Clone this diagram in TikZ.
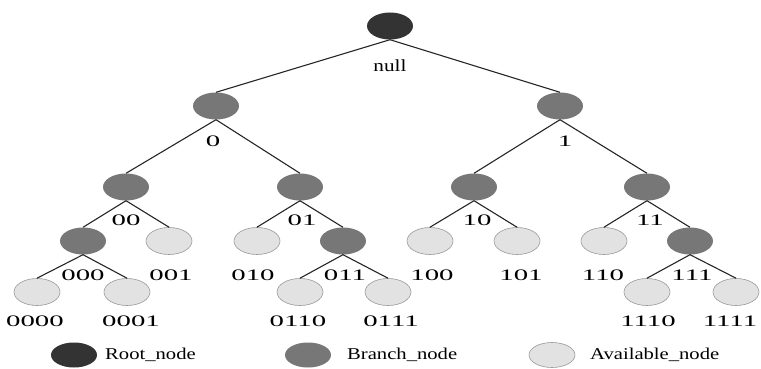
\documentclass[tikz,border=0pt]{standalone}
\usepackage{fontspec}
\setmainfont[FakeStretch=1.25]{Liberation Serif}
\newfontfamily\bitfont[FakeStretch=1.8]{Liberation Serif}
\definecolor{rootgray}{HTML}{333333}
\definecolor{branchgray}{HTML}{777777}
\definecolor{availgray}{HTML}{E2E2E2}
\definecolor{availline}{HTML}{9A9A9A}
\tikzset{
  treenode/.style={ellipse, minimum width=46pt, minimum height=27pt, inner sep=0pt},
  rootnode/.style={treenode, fill=rootgray},
  branchnode/.style={treenode, fill=branchgray},
  availnode/.style={treenode, fill=availgray, draw=availline, line width=0.6pt},
  bit/.style={font=\bitfont\fontsize{16}{16}\selectfont, inner sep=0pt},
  legendtext/.style={font=\fontsize{16.5}{16.5}\selectfont, anchor=west, inner sep=0pt},
  edge/.style={draw, line width=1.1pt, black!85}
}
\usetikzlibrary{shapes.geometric}
\begin{document}
\begin{tikzpicture}[x=1pt, y=-1pt]
\useasboundingbox (0,0) rectangle (761,369);
\node[rootnode] (root) at (390,26) {};
\node[branchnode] (n0) at (216,106) {};
\node[branchnode] (n1) at (560,106) {};
\node[branchnode] (n00) at (126,187) {};
\node[branchnode] (n01) at (300,187) {};
\node[branchnode] (n10) at (474,187) {};
\node[branchnode] (n11) at (647,187) {};
\node[branchnode] (n000) at (83,241) {};
\node[availnode] (n001) at (169,241) {};
\node[availnode] (n010) at (257,241) {};
\node[branchnode] (n011) at (343,241) {};
\node[availnode] (n100) at (430,241) {};
\node[availnode] (n101) at (517,241) {};
\node[availnode] (n110) at (604,241) {};
\node[branchnode] (n111) at (690,241) {};
\node[availnode] (n0000) at (37,292) {};
\node[availnode] (n0001) at (127,292) {};
\node[availnode] (n0110) at (300,292) {};
\node[availnode] (n0111) at (388,292) {};
\node[availnode] (n1110) at (647,292) {};
\node[availnode] (n1111) at (736,292) {};

\node[font=\fontsize{17}{17}\selectfont, inner sep=0pt] (lnull) at (390,66) {null};
\node[bit] (l0) at (213,141) {0};
\node[bit] (l1) at (565,141) {1};
\node[bit] (l00) at (126,220) {00};
\node[bit] (l01) at (302,220) {01};
\node[bit] (l10) at (477,220) {10};
\node[bit] (l11) at (650,220) {11};
\node[bit] (l000) at (83,275) {000};
\node[bit] (l001) at (171,275) {001};
\node[bit] (l010) at (253,275) {010};
\node[bit] (l011) at (345,275) {011};
\node[bit] (l100) at (432,275) {100};
\node[bit] (l101) at (521,275) {101};
\node[bit] (l110) at (603,275) {110};
\node[bit] (l111) at (692,275) {111};
\node[bit] (l0000) at (35,321) {0000};
\node[bit] (l0001) at (131,321) {0001};
\node[bit] (l0110) at (298,321) {0110};
\node[bit] (l0111) at (391,321) {0111};
\node[bit] (l1110) at (648,321) {1110};
\node[bit] (l1111) at (730,321) {1111};

\path[edge] (root.south) -- (n0.north);
\path[edge] (root.south) -- (n1.north);
\path[edge] (n0.south) -- (n00.north);
\path[edge] (n0.south) -- (n01.north);
\path[edge] (n1.south) -- (n10.north);
\path[edge] (n1.south) -- (n11.north);
\path[edge] (n00.south) -- (n000.north);
\path[edge] (n00.south) -- (n001.north);
\path[edge] (n01.south) -- (n010.north);
\path[edge] (n01.south) -- (n011.north);
\path[edge] (n10.south) -- (n100.north);
\path[edge] (n10.south) -- (n101.north);
\path[edge] (n11.south) -- (n110.north);
\path[edge] (n11.south) -- (n111.north);
\path[edge] (n000.south) -- (n0000.north);
\path[edge] (n000.south) -- (n0001.north);
\path[edge] (n011.south) -- (n0110.north);
\path[edge] (n011.south) -- (n0111.north);
\path[edge] (n111.south) -- (n1110.north);
\path[edge] (n111.south) -- (n1111.north);

\node[rootnode, minimum height=25pt] (keyroot) at (74,355) {};
\node[legendtext] (txtroot) at (105,355) {Root\_node};
\node[branchnode, minimum height=25pt] (keybranch) at (308,355) {};
\node[legendtext] (txtbranch) at (347,355) {Branch\_node};
\node[availnode, minimum height=25pt] (keyavail) at (552,355) {};
\node[legendtext] (txtavail) at (590,355) {Available\_node};
\end{tikzpicture}
\end{document}
